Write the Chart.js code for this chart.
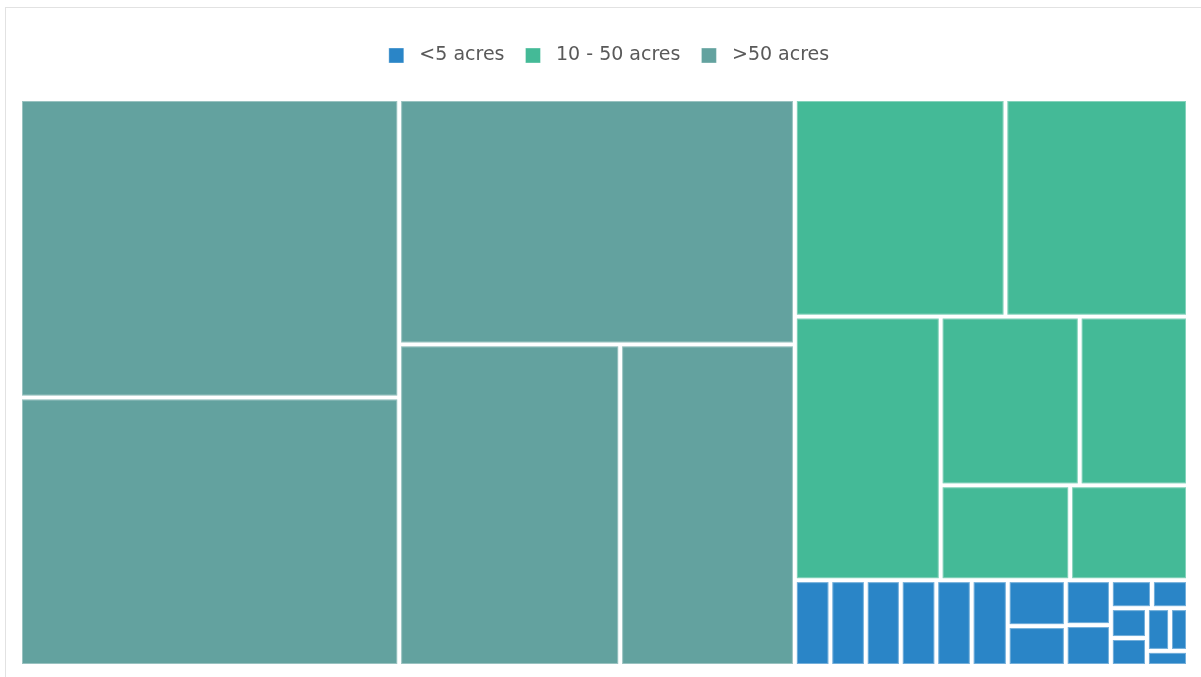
<!DOCTYPE html>
<html>
<head>
<meta charset="utf-8">
<script src="https://cdn.jsdelivr.net/npm/chart.js@4/dist/chart.umd.min.js"></script>
<style>
    html, body { margin: 0; padding: 0; background: #fff; }
    #frame {
        position: absolute; left: 5px; top: 7px; width: 1300px; height: 800px;
        border: 1px solid #e2e2e2; box-sizing: border-box;
    }
    #wrap { position: absolute; left: 0; top: 0; width: 1201px; height: 677px; }
</style>
</head>
<body>
<div id="frame"></div>
<div id="wrap"><canvas id="treeChart"></canvas></div>
<script>
// Data
////////////////////////////////////////////////
const categories = ['<5 acres', '10 - 50 acres', '>50 acres'];
const categoryColours = ['#2A85C7', '#44BA97', '#63A29F'];

// plot sizes per category (relative units)
const smallPlots = [3050, 3050, 3010, 3050, 3050, 3100, 2670, 2320, 2030, 1850, 1150, 1010, 1080, 1010, 990, 770, 620];
// plots of the same holding share one strip of the map
const smallPlotHoldings = [1, 2, 3, 4, 5, 6, 7, 7, 8, 8, 9, 9, 10, 10, 11, 11, 12];
const midPlots = [45900, 39800, 38500, 23500, 18300, 12300, 11200];
const largePlots = [113400, 102000, 97300, 71200, 56300];

const plotValues = [smallPlots, midPlots, largePlots];
const plotHoldings = [smallPlotHoldings, null, null];

// Treemap layout (squarified)
////////////////////////////////////////////////
function worstRatio(row, len) {
    let s = 0, max = -Infinity, min = Infinity;
    row.forEach(r => { s += r.a; max = Math.max(max, r.a); min = Math.min(min, r.a); });
    return Math.max(len * len * max / (s * s), (s * s) / (len * len * min));
}

function placeRow(row, rect, out) {
    const s = row.reduce((t, r) => t + r.a, 0);
    if (rect.w >= rect.h) {
        const cw = s / rect.h;
        let cy = rect.y;
        row.forEach(r => {
            const rh = r.a / cw;
            out.push({ x: rect.x, y: cy, w: cw, h: rh, item: r.item });
            cy += rh;
        });
        rect.x += cw; rect.w -= cw;
    } else {
        const rh = s / rect.w;
        let cx = rect.x;
        row.forEach(r => {
            const rw = r.a / rh;
            out.push({ x: cx, y: rect.y, w: rw, h: rh, item: r.item });
            cx += rw;
        });
        rect.y += rh; rect.h -= rh;
    }
}

// items with a key are kept in strips by key, the others are squarified
function squarify(items, x, y, w, h, keepOrder) {
    const out = [];
    const total = items.reduce((t, it) => t + it.value, 0);
    if (!total) return out;
    const scale = w * h / total;
    const list = keepOrder ? items.slice() : items.slice().sort((a, b) => b.value - a.value);
    const rect = { x: x, y: y, w: w, h: h };
    let row = [];
    list.forEach(it => {
        const cell = { a: it.value * scale, key: it.key, item: it };
        const len = Math.min(rect.w, rect.h);
        let newRow;
        if (!row.length) newRow = false;
        else if (cell.key != null) newRow = row[0].key !== cell.key;
        else newRow = worstRatio(row.concat([cell]), len) > worstRatio(row, len);
        if (newRow) {
            placeRow(row, rect, out);
            row = [];
        }
        row.push(cell);
    });
    if (row.length) placeRow(row, rect, out);
    return out;
}

function buildTree(width, height) {
    const groups = plotValues.map((vals, gi) => ({
        value: vals.reduce((t, v) => t + v, 0),
        key: null,
        group: gi
    }));
    const cells = [];
    squarify(groups, 0, 0, width, height, false).forEach(g => {
        const gi = g.item.group;
        const holdings = plotHoldings[gi];
        const leaves = plotValues[gi].map((v, i) => ({ value: v, key: holdings ? holdings[i] : null, group: gi }));
        squarify(leaves, g.x, g.y, g.w, g.h, !!holdings).forEach(c => {
            cells.push({
                x0: c.x / width, x1: (c.x + c.w) / width,
                y0: c.y / height, y1: (c.y + c.h) / height,
                group: gi
            });
        });
    });
    return cells;
}

// Plugin that lays out and paints the cells with the chart's scales
////////////////////////////////////////////////
const treemapPlugin = {
    id: 'treemapCells',
    afterInit(chart) {
        const legend = chart.legend;
        // extra room between legend and map
        const fit = legend.fit;
        legend.fit = function () {
            fit.call(legend);
            legend.height += 24;
        };
        // legend sits a little right of centre
        const draw = legend.draw;
        legend.draw = function () {
            chart.ctx.save();
            chart.ctx.translate(5, 0);
            draw.call(legend);
            chart.ctx.restore();
        };
    },
    afterLayout(chart) {
        const area = chart.chartArea;
        chart.$cells = buildTree(area.right - area.left, area.bottom - area.top);
    },
    afterDatasetsDraw(chart) {
        const ctx = chart.ctx;
        const xs = chart.scales.x, ys = chart.scales.y;
        const gap = 2;
        ctx.save();
        (chart.$cells || []).forEach(c => {
            const left = xs.getPixelForValue(c.x0) + gap;
            const right = xs.getPixelForValue(c.x1) - gap;
            const top = ys.getPixelForValue(c.y0) + gap;
            const bottom = ys.getPixelForValue(c.y1) - gap;
            if (right <= left || bottom <= top) return;
            ctx.fillStyle = categoryColours[c.group];
            ctx.fillRect(left, top, right - left, bottom - top);
            ctx.strokeStyle = 'rgba(255,255,255,0.35)';
            ctx.lineWidth = 1;
            ctx.strokeRect(left + 0.5, top + 0.5, right - left - 1, bottom - top - 1);
        });
        ctx.restore();
    }
};

const config = {
    type: 'scatter',
    data: {
        datasets: categories.map((label, i) => ({
            label: label,
            data: [],
            backgroundColor: categoryColours[i],
            borderColor: 'rgba(255,255,255,0.35)',
            borderWidth: 1
        }))
    },
    options: {
        responsive: true,
        maintainAspectRatio: false,
        animation: false,
        layout: { padding: { left: 20, right: 13, top: 25, bottom: 11 } },
        scales: {
            x: { type: 'linear', min: 0, max: 1, display: false },
            y: { type: 'linear', min: 0, max: 1, reverse: true, display: false }
        },
        plugins: {
            tooltip: { enabled: false },
            legend: {
                position: 'top',
                labels: {
                    boxWidth: 15,
                    boxHeight: 15,
                    padding: 21,
                    color: '#595959',
                    font: { family: 'DejaVu Sans', size: 19 },
                    generateLabels(chart) {
                        return Chart.defaults.plugins.legend.labels.generateLabels(chart)
                            .map(item => Object.assign(item, { text: ' ' + item.text }));
                    }
                }
            }
        }
    },
    plugins: [treemapPlugin]
};

const treeChart = new Chart(document.getElementById('treeChart'), config);
</script>
</body>
</html>
